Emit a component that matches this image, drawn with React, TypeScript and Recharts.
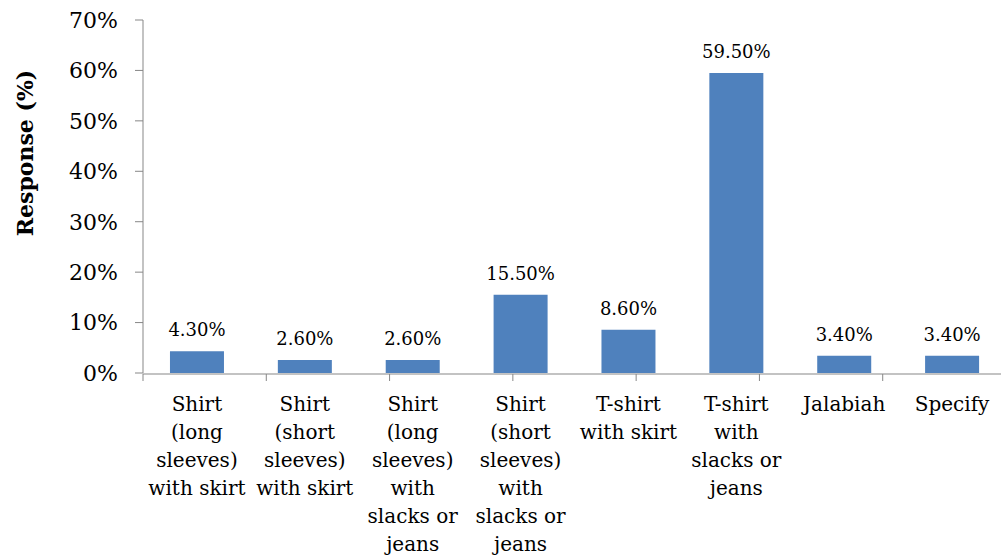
import React from 'react';
import { BarChart, Bar, XAxis, YAxis, LabelList, Label } from 'recharts';

const categories = [
  'Shirt\n(long\nsleeves)\nwith skirt',
  'Shirt\n(short\nsleeves)\nwith skirt',
  'Shirt\n(long\nsleeves)\nwith\nslacks or\njeans',
  'Shirt\n(short\nsleeves)\nwith\nslacks or\njeans',
  'T-shirt\nwith skirt',
  'T-shirt\nwith\nslacks or\njeans',
  'Jalabiah',
  'Specify',
];
const responses = [4.3, 2.6, 2.6, 15.5, 8.6, 59.5, 3.4, 3.4];
const yTicks = [0, 10, 20, 30, 40, 50, 60, 70];
// category boundaries, used only to draw the tick marks between the bars
const edgeTicks = [0, 1, 2, 3, 4, 5, 6, 7, 8];

const data = categories.map((name, i) => ({ name, value: responses[i] }));

const FONT = '"DejaVu Serif", serif';
const AXIS = '#878787';

function CategoryTick({ x, y, payload }: any) {
  const lines = String(payload.value).split('\n');
  return (
    <text x={x} y={y} textAnchor="middle" fontFamily={FONT} fontSize={20} fill="#000">
      {lines.map((l, i) => (
        <tspan key={i} x={x} dy={i === 0 ? 38 : 28}>{l}</tspan>
      ))}
    </text>
  );
}

const NoLabel = () => <g />;

function YTitle({ viewBox }: any) {
  const cx = viewBox.x + 25;
  const cy = viewBox.y + 133;
  return (
    <text x={cx} y={cy} transform={`rotate(-90 ${cx} ${cy})`} textAnchor="middle"
      dominantBaseline="central" fontFamily={FONT} fontSize={22} fontWeight="bold" fill="#000">
      Response (%)
    </text>
  );
}

export default function App() {
  return (
    <div style={{ position: 'absolute', left: 0, top: 0, width: 1001, height: 557, overflow: 'hidden', background: '#fff' }}>
      <BarChart width={1010} height={557} data={data} barCategoryGap="25%"
        margin={{ top: 20, right: 4, left: 0, bottom: 182 }}>
        <XAxis xAxisId="edges" type="number" domain={[0, 8]} ticks={edgeTicks} tick={<NoLabel />}
          height={1} tickSize={7} axisLine={{ stroke: AXIS }} tickLine={{ stroke: AXIS }} allowDataOverflow />
        <XAxis xAxisId="cat" dataKey="name" interval={0} height={1} tickSize={0} tickMargin={0}
          axisLine={false} tickLine={false} tick={<CategoryTick />} />
        <YAxis domain={[0, 70]} ticks={yTicks} width={143} tickSize={8} tickMargin={17}
          tickFormatter={(v) => `${v}%`} axisLine={{ stroke: AXIS }} tickLine={{ stroke: AXIS }}
          tick={{ fill: '#000', fontFamily: FONT, fontSize: 22 }}>
          <Label content={<YTitle />} />
        </YAxis>
        <Bar xAxisId="cat" dataKey="value" fill="#4F81BD" isAnimationActive={false}>
          <LabelList dataKey="value" position="top" offset={15}
            formatter={(v: any) => `${Number(v).toFixed(2)}%`}
            style={{ fill: '#000', fontFamily: FONT, fontSize: 18 }} />
        </Bar>
      </BarChart>
    </div>
  );
}
